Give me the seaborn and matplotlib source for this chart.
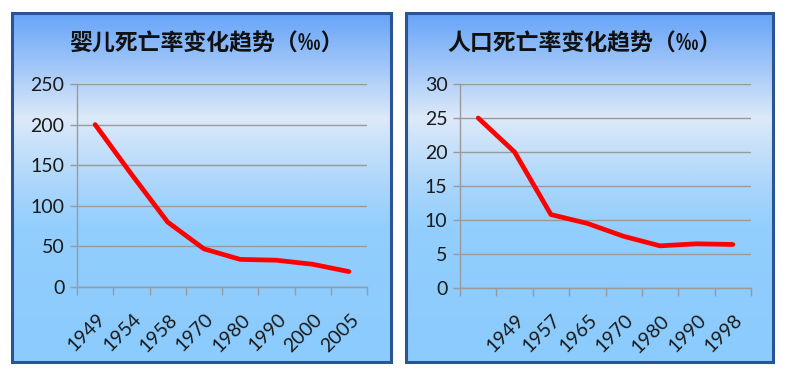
import numpy as np
import pandas as pd
import matplotlib
matplotlib.use("Agg")
import matplotlib.pyplot as plt
from matplotlib.colors import LinearSegmentedColormap
from matplotlib.patches import Rectangle
import seaborn as sns

# ---- data ----
infant_years = ["1949", "1954", "1958", "1970", "1980", "1990", "2000", "2005"]
infant_rate = [200, 139, 80, 47, 34, 33, 28, 19]
infant_title = "婴儿死亡率变化趋势（‰）"

pop_years = ["", "1949", "1957", "1965", "1970", "1980", "1990", "1998"]
pop_rate = [25, 20, 10.8, 9.5, 7.6, 6.2, 6.5, 6.4]
pop_title = "人口死亡率变化趋势（‰）"

sns.set_theme(style="white")
plt.rcParams['font.family'] = ['Lato', 'Noto Sans CJK SC', 'DejaVu Sans']

W, H = 786, 375
fig = plt.figure(figsize=(W / 100, H / 100), dpi=100)
fig.patch.set_facecolor("white")

cmap = LinearSegmentedColormap.from_list(
    "bg",
    [(0.0, "#66a4f8"), (0.30, "#dce9f9"), (0.50, "#a9d5fb"),
     (0.62, "#92cefd"), (1.0, "#8bcbfd")])
grad = np.linspace(0, 1, 256).reshape(-1, 1)


def px_rect(x0, y0, x1, y1):
    return [x0 / W, 1 - y1 / H, (x1 - x0) / W, (y1 - y0) / H]


def panel(box, axbox, years, rate, ymax, ystep, title, title_cx):
    bg = fig.add_axes(px_rect(*box), zorder=0)
    bg.imshow(grad, aspect="auto", cmap=cmap, extent=[0, 1, 0, 1], origin="upper")
    bg.set_axis_off()
    bg.add_patch(Rectangle((0, 0), 1, 1, transform=bg.transAxes, fill=False,
                           edgecolor="#2b5494", lw=2.2, clip_on=False))
    fig.text(title_cx / W, 1 - 44 / H, title, ha="center", va="center",
             fontsize=16.5, family=['Noto Sans CJK SC'], weight="bold",
             color="#111111")

    ax = fig.add_axes(px_rect(*axbox), zorder=1)
    ax.patch.set_alpha(0)
    df = pd.DataFrame({"pos": np.arange(len(rate)), "rate": rate})
    sns.lineplot(data=df, x="pos", y="rate", ax=ax, color="#ff0000", lw=3.4,
                 solid_capstyle="round", solid_joinstyle="round")
    ax.set_xlim(-0.5, len(rate) - 0.5)
    ax.set_ylim(0, ymax)
    ax.set_yticks(np.arange(0, ymax + 0.1, ystep))
    ax.set_xticks(np.arange(len(rate)))
    ax.set_xticks(np.arange(len(rate) + 1) - 0.5, minor=True)
    ax.set_xticklabels(years, rotation=45, ha="right", va="top",
                       rotation_mode="anchor")
    ax.set_xlabel("")
    ax.set_ylabel("")
    ax.grid(axis="y", color="#9a9a9a", lw=1.0)
    ax.grid(axis="x", visible=False)
    ax.set_axisbelow(True)
    for s in ["top", "right"]:
        ax.spines[s].set_visible(False)
    for s in ["left", "bottom"]:
        ax.spines[s].set_color("#9a9a9a")
        ax.spines[s].set_linewidth(1.0)
    ax.tick_params(axis="y", which="major", length=5, width=1.0,
                   color="#9a9a9a", labelsize=14, labelcolor="#1a1a1a",
                   pad=4, left=True)
    ax.tick_params(axis="x", which="major", length=0, labelsize=14,
                   labelcolor="#1a1a1a", pad=17)
    ax.tick_params(axis="x", which="minor", length=6, width=1.0,
                   color="#9a9a9a", bottom=True, direction="out")
    for lab in ax.get_xticklabels():
        lab.set_transform(lab.get_transform() +
                          matplotlib.transforms.ScaledTranslation(1 / 100, 0, fig.dpi_scale_trans))
    return ax


panel((12, 13, 391, 362), (77, 84, 367, 287), infant_years, infant_rate,
      250, 50, infant_title, 206)
panel((406, 13, 773, 362), (460, 84, 751, 288), pop_years, pop_rate,
      30, 5, pop_title, 585)

fig.savefig("out.png", dpi=100, facecolor="white")
